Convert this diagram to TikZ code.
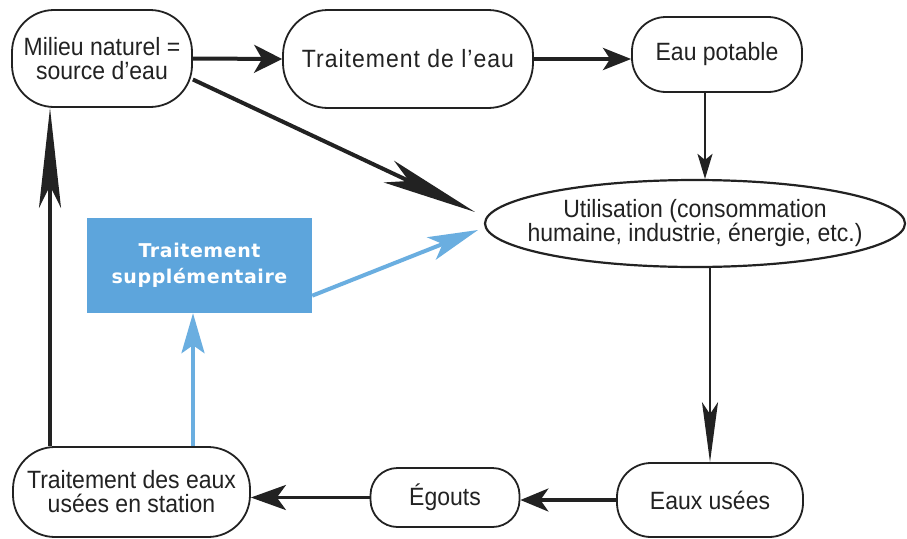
\documentclass[tikz,border=0pt]{standalone}
\usepackage{fontspec}
\setmainfont{Liberation Sans}[FakeStretch=0.92]
\newfontfamily\boxfont{DejaVu Sans}[LetterSpace=3]
\usetikzlibrary{arrows.meta,shapes.geometric}
\definecolor{bluebox}{HTML}{5DA5DC}
\definecolor{bluearrow}{HTML}{6AAEE0}
\definecolor{ink}{HTML}{222222}
\begin{document}
\begin{tikzpicture}[x=1pt,y=-1pt,
  box/.style={draw=ink, line width=1.8pt, rounded corners=#1, align=center, inner sep=0pt,
    text=ink, font=\fontsize{25}{24}\selectfont},
  conn/.style={draw=ink, line width=#1},
]
\useasboundingbox[fill=white] (0,0) rectangle (907,538);

% nodes
\node[box=42pt, minimum width=180pt, minimum height=97pt] (A) at (102,58.5) {Milieu naturel =\\source d’eau};
\node[box=45pt, minimum width=250pt, minimum height=98pt] (B) at (408,59) {\addfontfeature{LetterSpace=4}Traitement de l’eau};
\node[box=34pt, minimum width=170pt, minimum height=75pt] (C) at (717,54.5) {Eau potable};
\node[draw=ink, line width=2.2pt, ellipse, minimum width=420pt, minimum height=87pt, inner sep=0pt] (D) at (695,223.5) {};
\node[align=center, text=ink, inner sep=0pt, font=\fontsize{25}{24}\selectfont] (Dtext) at (D.center)
      {Utilisation (consommation\\humaine, industrie, énergie, etc.)};
\node[box=34pt, minimum width=186pt, minimum height=74pt] (E) at (710,500) {Eaux usées};
\node[box=27pt, minimum width=149pt, minimum height=59pt] (F) at (445,497.5) {Égouts};
\node[box=42pt, minimum width=237pt, minimum height=90pt] (G) at (131.5,492) {Traitement des eaux\\usées en station};
\node[fill=bluebox, minimum width=225pt, minimum height=95pt, inner sep=0pt, align=center,
      text=white, font=\boxfont\bfseries\fontsize{19}{26}\selectfont] (H) at (199.5,265.5)
      {Traitement\\supplémentaire};

% connectors
\draw[conn=4pt, -{Stealth[length=28pt,width=28pt,inset=8pt]}] (A.east) -- (B.west);
\draw[conn=4pt, -{Stealth[length=28pt,width=22pt,inset=7pt]}] (B.east) -- (B.east -| C.west);
\draw[conn=2pt, -{Stealth[length=25pt,width=15pt,inset=6pt]}] ([xshift=-12pt]C.south) -- ([xshift=-12pt]C.south |- D.north);
\coordinate (dInA) at (475,212);
\coordinate (dInH) at (478,230);
\draw[conn=4pt, -{Stealth[length=95pt,width=24pt,inset=22pt]}] (A.-13) -- (dInA);
\draw[conn=2.5pt, -{Stealth[length=60pt,width=16pt,inset=12pt]}] (E.north |- D.south) -- (E.north);
\draw[conn=3.5pt, -{Stealth[length=28pt,width=23pt,inset=8pt]}] (E.west) -- (E.west -| F.east);
\draw[conn=3.5pt, -{Stealth[length=35pt,width=25pt,inset=9pt]}] (F.west) -- (F.west -| G.east);
\draw[conn=4pt, -{Stealth[length=100pt,width=22pt,inset=22pt]}] ([xshift=-81.5pt]G.north) -- ([xshift=-81.5pt]G.north |- A.south);
\draw[draw=bluearrow, line width=3.5pt, -{Stealth[length=40pt,width=23pt,inset=8pt]}] ([xshift=61.5pt]G.north) -- ([xshift=61.5pt]G.north |- H.south);
\draw[draw=bluearrow, line width=4pt, -{Stealth[length=50pt,width=24pt,inset=12pt]}] (H.-15) -- (dInH);
\end{tikzpicture}
\end{document}
